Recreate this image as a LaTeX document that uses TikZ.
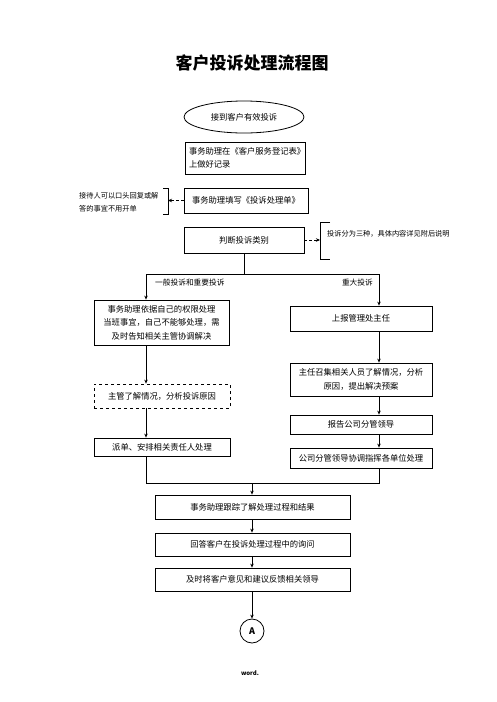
\documentclass[tikz,border=0pt]{standalone}
\usepackage{fontspec}
\setmainfont{Noto Sans CJK SC}
\usetikzlibrary{shapes.geometric,arrows.meta}
\tikzset{
  box/.style={draw, line width=0.8pt, inner sep=1pt, align=center, font=\fontsize{8.3}{13.5}\selectfont},
  note/.style={inner sep=0pt, align=left, font=\fontsize{7.2}{13}\selectfont},
  lbl/.style={inner sep=0pt, font=\fontsize{7.7}{9}\selectfont},
  ln/.style={line width=0.8pt},
  arr/.style={line width=0.8pt, -{Stealth[length=4pt,width=3.5pt]}},
  darr/.style={line width=0.8pt, densely dashed, -{Stealth[length=4pt,width=3.5pt]}},
}
\begin{document}
\begin{tikzpicture}[x=1pt,y=-1pt]
\useasboundingbox[fill=white] (0,0) rectangle (496,702);
\node[inner sep=0pt, font=\fontsize{17}{17}\selectfont\bfseries] (title) at (252,63) {客户投诉处理流程图};
\node[draw, ellipse, line width=0.8pt, minimum width=120, minimum height=32, inner sep=0pt, font=\fontsize{8.3}{10}\selectfont] (ell) at (244,117) {接到客户有效投诉};
\node[box, minimum width=120, minimum height=32, text width=112, align=left] (b1) at (245,158) {事务助理在《客户服务登记表》\\上做好记录};
\node[box, minimum width=124, minimum height=25] (b2) at (246,200.5) {事务助理填写《投诉处理单》};
\node[box, minimum width=120, minimum height=26] (b3) at (244,240) {判断投诉类别};
% left note
\node[note, anchor=west] (nl) at (79,202.5) {接待人可以口头回复或解\\答的事宜不用开单};
\coordinate (blt) at (163,188);
\coordinate (blb) at (163,214);
\draw[ln] (blt) -- ++(5,0) |- (blb);
\coordinate (bl) at (168,200.5);
\draw[darr] (b2.west) -- (bl);
% right note
\node[note, anchor=west] (nr) at (327,234) {投诉分为三种，具体内容详见附后说明};
\coordinate (brt) at (330,222);
\coordinate (brb) at (330,259);
\draw[ln] (brt) -- ++(-10,0) |- (brb);
\coordinate (br) at (320,240);
\draw[darr] (b3.east) -- (br);
% branch
\coordinate (jc) at (244,274);
\coordinate (jl) at (146,274);
\coordinate (jr) at (379,274);
\draw[ln] (b3.south) -- (jc);
\draw[ln] (jl) -- (jr);
\node[lbl, anchor=west] (l1) at (155,283) {一般投诉和重要投诉};
\node[lbl, anchor=east] (l2) at (373,283) {重大投诉};
% left column
\node[box, minimum width=135, minimum height=45] (ba) at (161.5,322.5) {事务助理依据自己的权限处理\\当班事宜，自己不能够处理，需\\及时告知相关主管协调解决};
\node[box, dashed, minimum width=136, minimum height=24] (bd) at (162,396) {主管了解情况，分析投诉原因};
\node[box, minimum width=136, minimum height=18] (bp) at (162,447) {派单、安排相关责任人处理};
\draw[arr] (jl) -- (jl |- ba.north);
\draw[arr] (jl |- ba.south) -- (jl |- bd.north);
\draw[arr] (jl |- bd.south) -- (jl |- bp.north);
% right column
\node[box, minimum width=142, minimum height=25] (bb) at (361,318.5) {上报管理处主任};
\node[box, minimum width=142, minimum height=33] (bc) at (361,379.5) {主任召集相关人员了解情况，分析\\原因，提出解决预案};
\node[box, minimum width=142, minimum height=19] (bdd) at (361,424.5) {报告公司分管领导};
\node[box, minimum width=142, minimum height=20] (be) at (361,458) {公司分管领导协调指挥各单位处理};
\draw[arr] (jr) -- (jr |- bb.north);
\draw[arr] (jr |- bb.south) -- (jr |- bc.north);
\draw[arr] (jr |- bc.south) -- (jr |- bdd.north);
\draw[arr] (jr |- bdd.south) -- (jr |- be.north);
% merge
\coordinate (ml) at (146,483);
\coordinate (mr) at (379,483);
\coordinate (mc) at (252,483);
\draw[ln] (jl |- bp.south) -- (ml) -- (mr) -- (jr |- be.south);
\node[box, minimum width=195, minimum height=24] (bf) at (252.5,507) {事务助理跟踪了解处理过程和结果};
\node[box, minimum width=195, minimum height=23] (bg) at (252.5,544.5) {回答客户在投诉处理过程中的询问};
\node[box, minimum width=195, minimum height=23] (bh) at (252.5,579.5) {及时将客户意见和建议反馈相关领导};
\node[draw, circle, line width=0.8pt, minimum size=24, inner sep=0pt, font=\fontsize{9}{9}\selectfont\bfseries] (ca) at (252,631) {A};
\draw[arr] (mc) -- (mc |- bf.north);
\draw[arr] (mc |- bf.south) -- (mc |- bg.north);
\draw[arr] (mc |- bg.south) -- (mc |- bh.north);
\draw[arr] (mc |- bh.south) -- (ca.north);
\node[inner sep=0pt, font=\fontsize{6}{6}\selectfont\bfseries] (wd) at (250,673) {word.};
\end{tikzpicture}
\end{document}
